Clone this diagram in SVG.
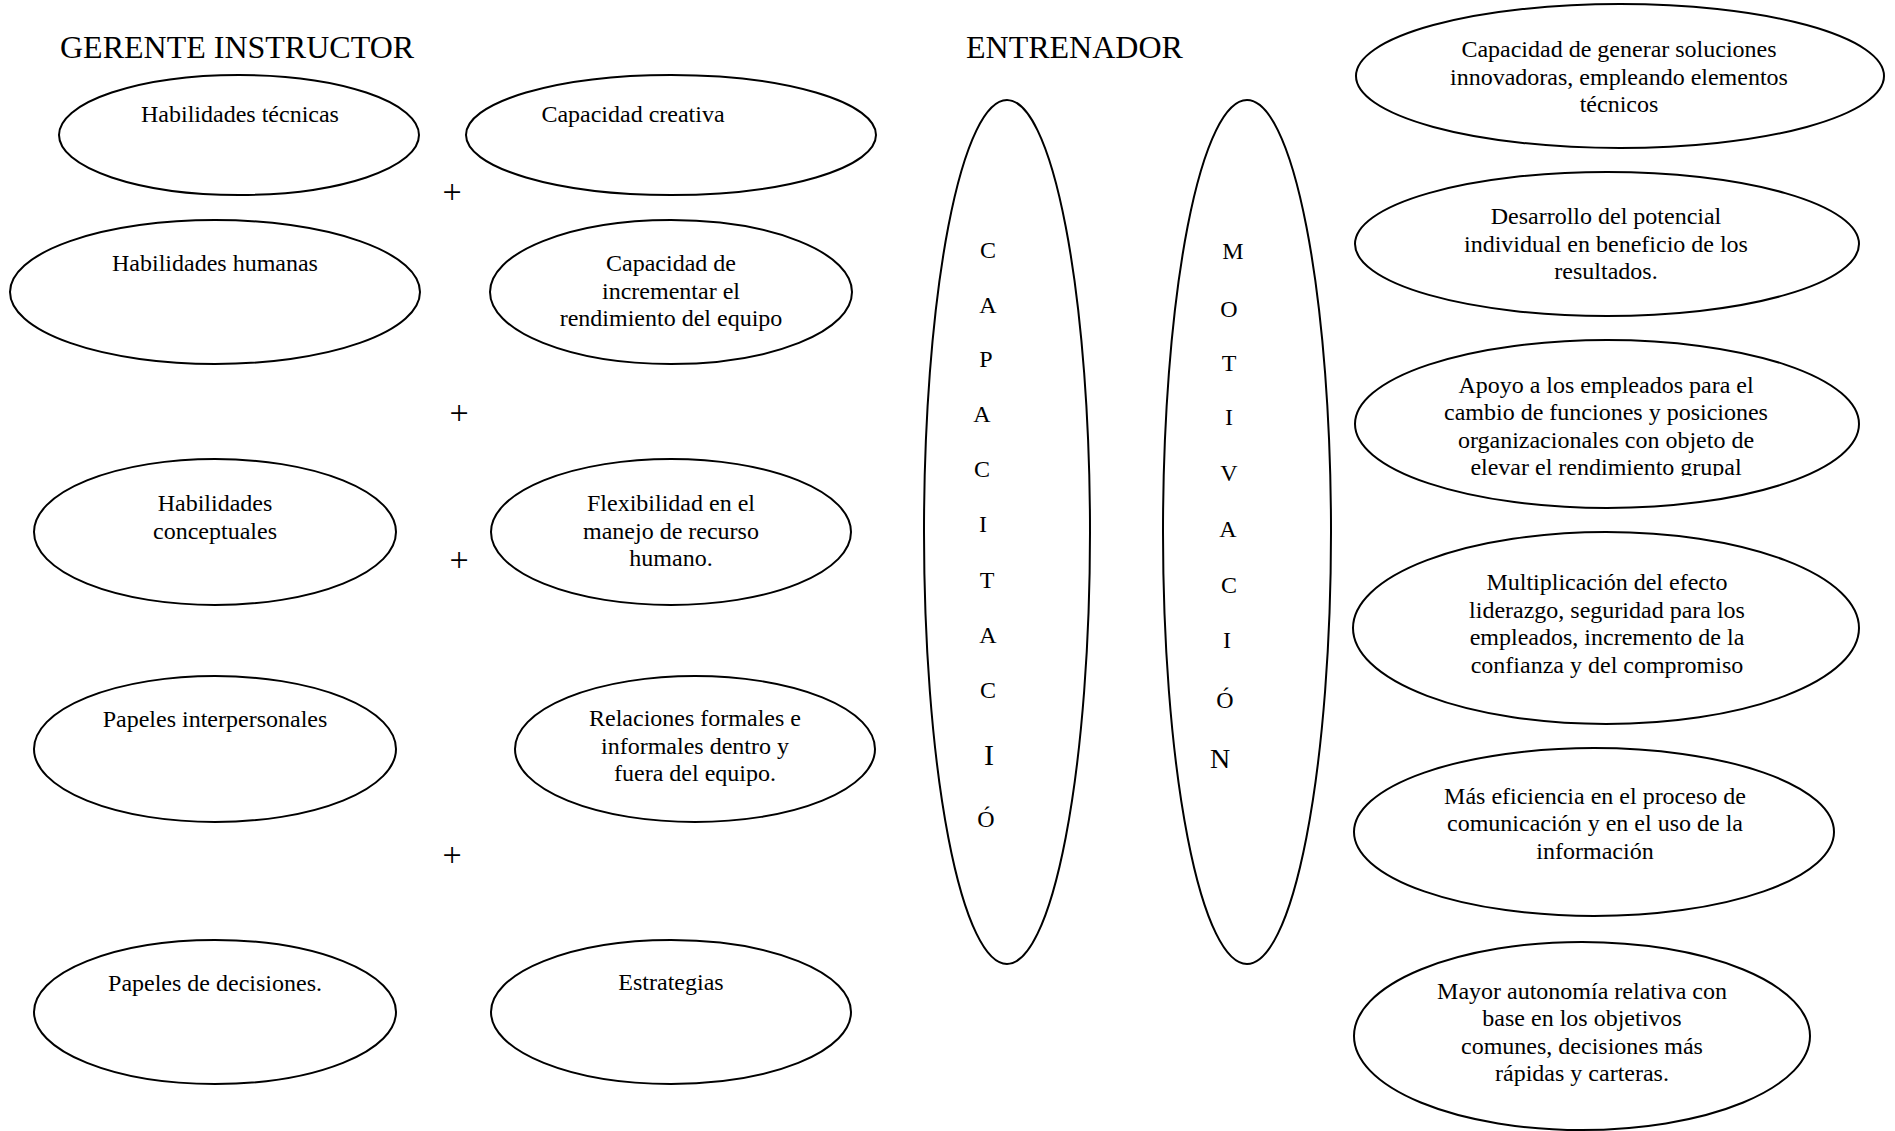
<svg xmlns="http://www.w3.org/2000/svg" width="1895" height="1131" viewBox="0 0 1895 1131">
<style>
.n{fill:#fff;stroke:#000;stroke-width:2}
text{font-family:"Liberation Serif","Times New Roman",serif;fill:#000;font-size:24px}
.c{text-anchor:middle}
.t{font-size:32px}
.p{font-size:34px}
</style>
<defs>
<clipPath id="clipR3"><rect x="1355" y="340" width="505" height="136"/></clipPath>
</defs>
<rect width="1895" height="1131" fill="#fff"/>
<text class="t" x="60" y="58">GERENTE INSTRUCTOR</text>
<text class="t" x="966" y="58">ENTRENADOR</text>
<g id="connectors"></g>
<g id="e1"><ellipse class="n" cx="239" cy="135" rx="180" ry="60"/><text class="c" x="240" y="122">Habilidades técnicas</text></g>
<g id="e2"><ellipse class="n" cx="671" cy="135" rx="205" ry="60"/><text class="c" x="633" y="122">Capacidad creativa</text></g>
<g id="e3"><ellipse class="n" cx="215" cy="292" rx="205" ry="72"/><text class="c" x="215" y="271">Habilidades humanas</text></g>
<g id="e4"><ellipse class="n" cx="671" cy="292" rx="181" ry="72"/><text class="c" x="671" y="271">Capacidad de</text><text class="c" x="671" y="298.5">incrementar el</text><text class="c" x="671" y="326">rendimiento del equipo</text></g>
<g id="e5"><ellipse class="n" cx="215" cy="532" rx="181" ry="73"/><text class="c" x="215" y="511">Habilidades</text><text class="c" x="215" y="538.5">conceptuales</text></g>
<g id="e6"><ellipse class="n" cx="671" cy="532" rx="180" ry="73"/><text class="c" x="671" y="511">Flexibilidad en el</text><text class="c" x="671" y="538.5">manejo de recurso</text><text class="c" x="671" y="566">humano.</text></g>
<g id="e7"><ellipse class="n" cx="215" cy="749" rx="181" ry="73"/><text class="c" x="215" y="727">Papeles interpersonales</text></g>
<g id="e8"><ellipse class="n" cx="695" cy="749" rx="180" ry="73"/><text class="c" x="695" y="726">Relaciones formales e</text><text class="c" x="695" y="753.5">informales dentro y</text><text class="c" x="695" y="781">fuera del equipo.</text></g>
<g id="e9"><ellipse class="n" cx="215" cy="1012" rx="181" ry="72"/><text class="c" x="215" y="991">Papeles de decisiones.</text></g>
<g id="e10"><ellipse class="n" cx="671" cy="1012" rx="180" ry="72"/><text class="c" x="671" y="990">Estrategias</text></g>
<g id="plus">
<text class="c p" x="452" y="203">+</text>
<text class="c p" x="459" y="424">+</text>
<text class="c p" x="459" y="571">+</text>
<text class="c p" x="452" y="866">+</text>
</g>
<g id="capacitacion"><ellipse class="n" cx="1007" cy="532" rx="83" ry="432"/>
<text class="c" x="988" y="258">C</text>
<text class="c" x="988" y="313">A</text>
<text class="c" x="986" y="367">P</text>
<text class="c" x="982" y="422">A</text>
<text class="c" x="982" y="477">C</text>
<text class="c" x="983" y="532">I</text>
<text class="c" x="987" y="588">T</text>
<text class="c" x="988" y="643">A</text>
<text class="c" x="988" y="698">C</text>
<text class="c" x="989" y="765" style="font-size:30px">I</text>
<text class="c" x="986" y="827">Ó</text>
</g>
<g id="motivacion"><ellipse class="n" cx="1247" cy="532" rx="84" ry="432"/>
<text class="c" x="1233" y="259">M</text>
<text class="c" x="1229" y="317">O</text>
<text class="c" x="1229" y="371">T</text>
<text class="c" x="1229" y="425">I</text>
<text class="c" x="1229" y="481">V</text>
<text class="c" x="1228" y="537">A</text>
<text class="c" x="1229" y="593">C</text>
<text class="c" x="1227" y="648">I</text>
<text class="c" x="1225" y="708">Ó</text>
<text class="c" x="1220" y="768" style="font-size:28px">N</text>
</g>
<g id="r1"><ellipse class="n" cx="1620" cy="76" rx="264" ry="72"/><text class="c" x="1619" y="57">Capacidad de generar soluciones</text><text class="c" x="1619" y="84.5">innovadoras, empleando elementos</text><text class="c" x="1619" y="112">técnicos</text></g>
<g id="r2"><ellipse class="n" cx="1607" cy="244" rx="252" ry="72"/><text class="c" x="1606" y="224">Desarrollo del potencial</text><text class="c" x="1606" y="251.5">individual en beneficio de los</text><text class="c" x="1606" y="279">resultados.</text></g>
<g id="r3"><ellipse class="n" cx="1607" cy="424" rx="252" ry="84"/><g clip-path="url(#clipR3)"><text class="c" x="1606" y="392.5">Apoyo a los empleados para el</text><text class="c" x="1606" y="420">cambio de funciones y posiciones</text><text class="c" x="1606" y="447.5">organizacionales con objeto de</text><text class="c" x="1606" y="475">elevar el rendimiento grupal</text></g></g>
<g id="r4"><ellipse class="n" cx="1606" cy="628" rx="253" ry="96"/><text class="c" x="1607" y="590">Multiplicación del efecto</text><text class="c" x="1607" y="617.5">liderazgo, seguridad para los</text><text class="c" x="1607" y="645">empleados, incremento de la</text><text class="c" x="1607" y="672.5">confianza y del compromiso</text></g>
<g id="r5"><ellipse class="n" cx="1594" cy="832" rx="240" ry="84"/><text class="c" x="1595" y="803.5">Más eficiencia en el proceso de</text><text class="c" x="1595" y="831">comunicación y en el uso de la</text><text class="c" x="1595" y="858.5">información</text></g>
<g id="r6"><ellipse class="n" cx="1582" cy="1036" rx="228" ry="94"/><text class="c" x="1582" y="998.5">Mayor autonomía relativa con</text><text class="c" x="1582" y="1026">base en los objetivos</text><text class="c" x="1582" y="1053.5">comunes, decisiones más</text><text class="c" x="1582" y="1081">rápidas y carteras.</text></g>
</svg>
